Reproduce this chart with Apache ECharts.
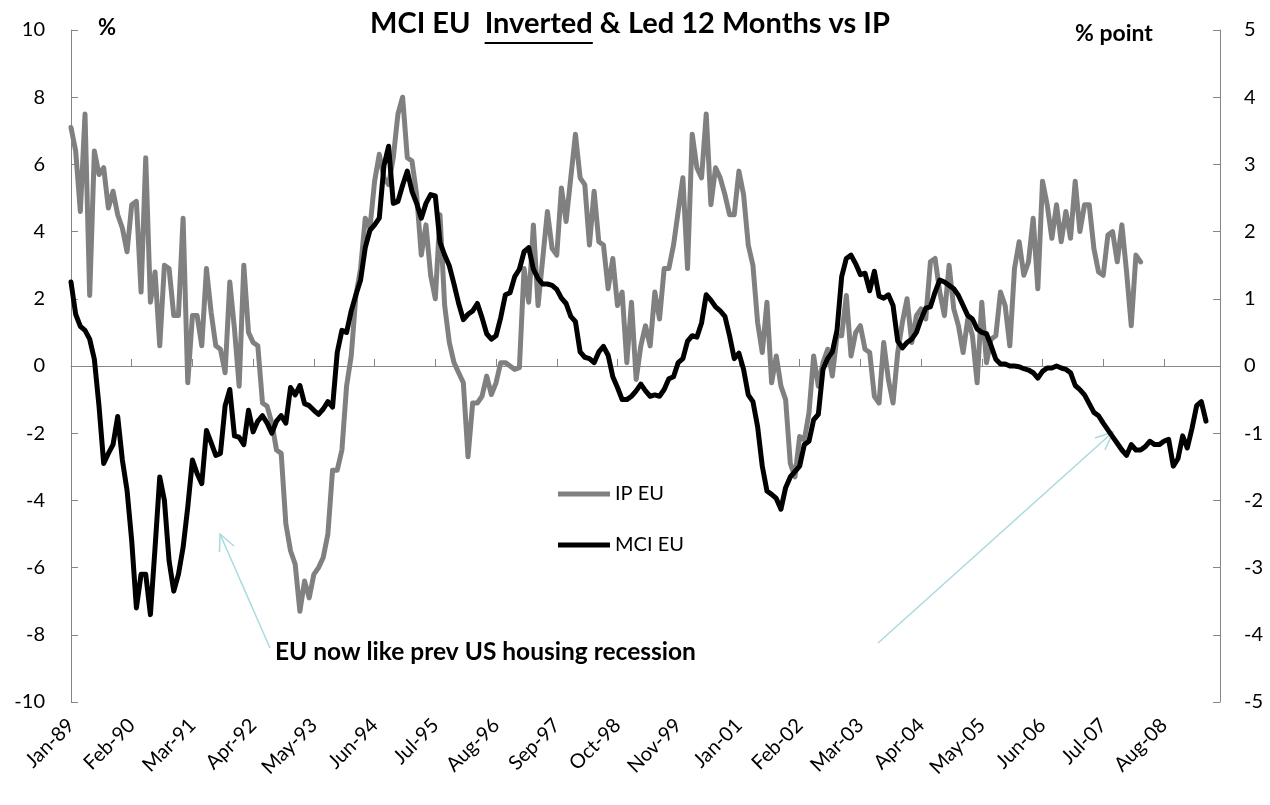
<!DOCTYPE html>
<html>
<head>
<meta charset="utf-8">
<script src="https://cdn.jsdelivr.net/npm/echarts@6/dist/echarts.min.js"></script>
<style>
html,body{margin:0;padding:0;background:#ffffff;}
#chart{width:1270px;height:805px;}
</style>
</head>
<body>
<div id="chart"></div>
<script>
// ---- categories: monthly from Jan-89; the source sheet has no Dec-00 row ----
const monthNames = ['Jan','Feb','Mar','Apr','May','Jun','Jul','Aug','Sep','Oct','Nov','Dec'];
const firstYear = 1989;
const skippedMonths = ['Dec-00'];
const categoryCount = 247;
const categories = [];
(function () {
  let y = firstYear, m = 0;
  while (categories.length < categoryCount) {
    const lab = monthNames[m] + '-' + String(y % 100).padStart(2, '0');
    if (skippedMonths.indexOf(lab) < 0) categories.push(lab);
    m++; if (m === 12) { m = 0; y++; }
  }
})();

// ---- IP EU, % (left axis) ----
const ipEU = [
 7.1, 6.4, 4.6, 7.5, 2.1, 6.4, 5.7, 5.9, 4.7, 5.2,
 4.5, 4.1, 3.4, 4.8, 4.9, 2.2, 6.2, 1.9, 2.8, 0.6,
 3.0, 2.9, 1.5, 1.5, 4.4, -0.5, 1.5, 1.5, 0.6, 2.9,
 1.6, 0.6, 0.5, -0.2, 2.5, 1.1, -0.6, 3.0, 1.0, 0.7,
 0.6, -1.1, -1.2, -1.7, -2.5, -2.6, -4.7, -5.5, -5.9, -7.3,
 -6.4, -6.9, -6.2, -6.0, -5.7, -5.0, -3.1, -3.1, -2.5, -0.6,
 0.3, 2.1, 2.9, 4.4, 4.1, 5.5, 6.3, 5.6, 5.4, 6.2,
 7.5, 8.0, 6.2, 6.1, 5.1, 3.3, 4.2, 2.7, 2.0, 4.5,
 1.8, 0.7, 0.1, -0.2, -0.5, -2.7, -1.1, -1.1, -0.9, -0.3,
 -0.85, -0.5, 0.1, 0.1, 0.0, -0.1, -0.05, 2.9, 1.9, 4.2,
 1.8, 3.2, 4.6, 3.5, 3.3, 5.3, 4.3, 5.6, 6.9, 5.6,
 5.4, 3.6, 5.2, 3.7, 3.6, 2.3, 3.2, 1.8, 2.2, 0.1,
 1.9, -0.4, 0.6, 1.2, 0.6, 2.2, 1.4, 2.9, 2.9, 3.6,
 4.6, 5.6, 2.9, 6.9, 5.9, 5.6, 7.5, 4.8, 5.9, 5.6,
 5.1, 4.5, 4.5, 5.8, 5.1, 3.6, 3.0, 1.3, 0.4, 1.9,
 -0.5, 0.3, -0.6, -1.0, -2.9, -3.3, -2.1, -2.2, -1.4, 0.3,
 -0.6, 0.1, 0.5, -0.3, 0.9, 0.9, 2.1, 0.3, 1.0, 1.2,
 0.5, 0.4, -0.9, -1.1, 0.7, -0.4, -1.1, 0.4, 1.3, 2.0,
 0.7, 1.5, 1.7, 1.4, 3.1, 3.2, 2.2, 1.5, 3.0, 1.7,
 1.2, 0.4, 1.4, 0.9, -0.5, 1.9, 0.1, 0.8, 0.9, 2.2,
 1.8, 0.6, 2.9, 3.7, 2.7, 3.1, 4.4, 2.3, 5.5, 4.8,
 3.8, 4.8, 3.7, 4.6, 3.8, 5.5, 4.0, 4.8, 4.8, 3.5,
 2.8, 2.7, 3.9, 4.0, 3.1, 4.2, 2.8, 1.2, 3.3, 3.1
];

// ---- MCI EU inverted & led 12 months, % point (right axis) ----
const mciEU = [
 1.25, 0.77, 0.59, 0.53, 0.4, 0.1, -0.6, -1.45, -1.3, -1.17,
 -0.75, -1.4, -1.85, -2.6, -3.6, -3.1, -3.1, -3.7, -2.7, -1.65,
 -2.0, -2.9, -3.35, -3.1, -2.7, -2.1, -1.4, -1.6, -1.75, -0.96,
 -1.14, -1.33, -1.3, -0.59, -0.35, -1.04, -1.06, -1.17, -0.66, -0.98,
 -0.82, -0.74, -0.85, -1.0, -0.82, -0.74, -0.85, -0.32, -0.43, -0.29,
 -0.56, -0.59, -0.66, -0.72, -0.64, -0.53, -0.61, 0.2, 0.53, 0.5,
 0.82, 1.06, 1.28, 1.76, 2.02, 2.1, 2.2, 2.98, 3.27, 2.42,
 2.45, 2.69, 2.9, 2.6, 2.42, 2.2, 2.42, 2.55, 2.53, 1.84,
 1.65, 1.49, 1.22, 0.93, 0.69, 0.77, 0.82, 0.93, 0.72, 0.48,
 0.4, 0.45, 0.72, 1.06, 1.09, 1.33, 1.44, 1.7, 1.76, 1.44,
 1.3, 1.22, 1.22, 1.2, 1.14, 1.01, 0.93, 0.74, 0.66, 0.21,
 0.13, 0.11, 0.05, 0.21, 0.29, 0.16, -0.16, -0.32, -0.5, -0.5,
 -0.45, -0.37, -0.27, -0.37, -0.45, -0.43, -0.45, -0.35, -0.19, -0.16,
 0.05, 0.11, 0.37, 0.45, 0.43, 0.64, 1.06, 0.98, 0.88, 0.82,
 0.74, 0.45, 0.11, 0.19, -0.05, -0.43, -0.53, -0.9, -1.49, -1.86,
 -1.91, -1.97, -2.13, -1.81, -1.65, -1.57, -1.49, -1.17, -1.12, -0.8,
 -0.72, -0.05, 0.11, 0.21, 0.53, 1.33, 1.6, 1.65, 1.52, 1.36,
 1.38, 1.12, 1.41, 1.04, 1.01, 1.06, 0.9, 0.37, 0.27, 0.35,
 0.4, 0.5, 0.7, 0.86, 0.88, 1.1, 1.28, 1.25, 1.2, 1.15,
 1.05, 0.9, 0.75, 0.7, 0.55, 0.5, 0.48, 0.3, 0.1, 0.03,
 0.03, 0.0, 0.0, -0.01, -0.04, -0.06, -0.1, -0.18, -0.08, -0.03,
 -0.03, 0.0, -0.03, -0.05, -0.1, -0.29, -0.35, -0.43, -0.56, -0.69,
 -0.74, -0.85, -0.95, -1.05, -1.15, -1.25, -1.33, -1.17, -1.25, -1.25,
 -1.2, -1.12, -1.17, -1.17, -1.12, -1.09, -1.49, -1.38, -1.04, -1.22,
 -0.93, -0.59, -0.53, -0.82
];

const seriesNames = ['IP EU', 'MCI EU'];
const titleParts = ['MCI EU  ', 'Inverted', ' & Led 12 Months vs IP'];
const leftUnit = '%';
const rightUnit = '% point';
const noteText = 'EU now like prev US housing recession';

const FONT = 'Lato, "Liberation Sans", sans-serif';
const AXIS_GREY = '#868686';
const ARROW = '#a8dadf';

// title layout (centred over the chart, "Inverted" underlined)
const TITLE_FONT = 'bold 29px ' + FONT;
const mctx = document.createElement('canvas').getContext('2d');
mctx.font = TITLE_FONT;
const wAll = mctx.measureText(titleParts.join('')).width;
const wPre = mctx.measureText(titleParts[0]).width;
const wInv = mctx.measureText(titleParts[1]).width;
const titleX = 630 - wAll / 2;
const titleTop = 9;

const chart = echarts.init(document.getElementById('chart'), null, {renderer: 'canvas'});

chart.setOption({
  backgroundColor: '#ffffff',
  animation: false,
  textStyle: {fontFamily: FONT},
  legend: {
    data: seriesNames.map(function (n) { return {name: n, icon: 'rect'}; }),
    orient: 'vertical',
    left: 553, top: 479,
    itemWidth: 52, itemHeight: 5,
    itemGap: 31,
    textStyle: {fontFamily: FONT, fontSize: 20, color: '#000', lineHeight: 20}
  },
  grid: {left: 71, right: 50, top: 30, bottom: 103, containLabel: false},
  xAxis: [
    {
      type: 'category', data: categories, boundaryGap: false,
      axisLine: {onZero: true, lineStyle: {color: AXIS_GREY, width: 1}},
      axisTick: {show: true, inside: true, interval: 12, length: 7, lineStyle: {color: AXIS_GREY}},
      axisLabel: {show: false},
      splitLine: {show: false}
    },
    {
      type: 'category', data: categories, boundaryGap: false, position: 'bottom',
      axisLine: {show: false, onZero: false},
      axisTick: {show: false},
      axisLabel: {
        show: true, interval: 12, rotate: 45, margin: 20,
        fontFamily: FONT, fontSize: 20, color: '#000'
      },
      splitLine: {show: false}
    }
  ],
  yAxis: [
    {
      type: 'value', min: -10, max: 10, interval: 2, position: 'left',
      axisLine: {show: true, lineStyle: {color: AXIS_GREY, width: 1}},
      axisTick: {show: true, inside: true, length: 7, lineStyle: {color: AXIS_GREY}},
      axisLabel: {margin: 26, fontFamily: FONT, fontSize: 20, color: '#000'},
      splitLine: {show: false}
    },
    {
      type: 'value', min: -5, max: 5, interval: 1, position: 'right',
      axisLine: {show: true, lineStyle: {color: AXIS_GREY, width: 1}},
      axisTick: {show: true, inside: true, length: 7, lineStyle: {color: AXIS_GREY}},
      axisLabel: {margin: 24, fontFamily: FONT, fontSize: 20, color: '#000'},
      splitLine: {show: false}
    }
  ],
  series: [
    {
      name: seriesNames[0], type: 'line', data: ipEU,
      xAxisIndex: 0, yAxisIndex: 0,
      symbol: 'none', smooth: false,
      lineStyle: {color: '#808080', width: 5, cap: 'round', join: 'round'},
      itemStyle: {color: '#808080'}
    },
    {
      name: seriesNames[1], type: 'line', data: mciEU,
      xAxisIndex: 0, yAxisIndex: 1,
      symbol: 'none', smooth: false,
      lineStyle: {color: '#000000', width: 5, cap: 'round', join: 'round'},
      itemStyle: {color: '#000000'}
    }
  ],
  graphic: [
    {type: 'text', left: titleX, top: titleTop, style: {text: titleParts.join(''), font: TITLE_FONT, fill: '#000'}},
    {type: 'line', shape: {x1: titleX + wPre, y1: titleTop + 34, x2: titleX + wPre + wInv, y2: titleTop + 34}, style: {stroke: '#000', lineWidth: 2}},
    {type: 'text', left: 98, top: 17, style: {text: leftUnit, font: 'bold 22px ' + FONT, fill: '#000'}},
    {type: 'text', left: 1075, top: 22, style: {text: rightUnit, font: 'bold 23px ' + FONT, fill: '#000'}},
    {type: 'text', left: 275, top: 640, style: {text: noteText, font: 'bold 24.5px ' + FONT, fill: '#000'}},
    {type: 'line', shape: {x1: 270, y1: 648, x2: 220, y2: 534}, style: {stroke: ARROW, lineWidth: 1.5}},
    {type: 'polyline', shape: {points: [[219.5, 552], [220, 534], [234, 546]]}, style: {stroke: ARROW, lineWidth: 1.5, fill: null}},
    {type: 'line', shape: {x1: 878, y1: 643, x2: 1113, y2: 432}, style: {stroke: ARROW, lineWidth: 1.5}},
    {type: 'polyline', shape: {points: [[1095, 438], [1113, 432], [1105, 450]]}, style: {stroke: ARROW, lineWidth: 1.5, fill: null}}
  ]
});
</script>
</body>
</html>
